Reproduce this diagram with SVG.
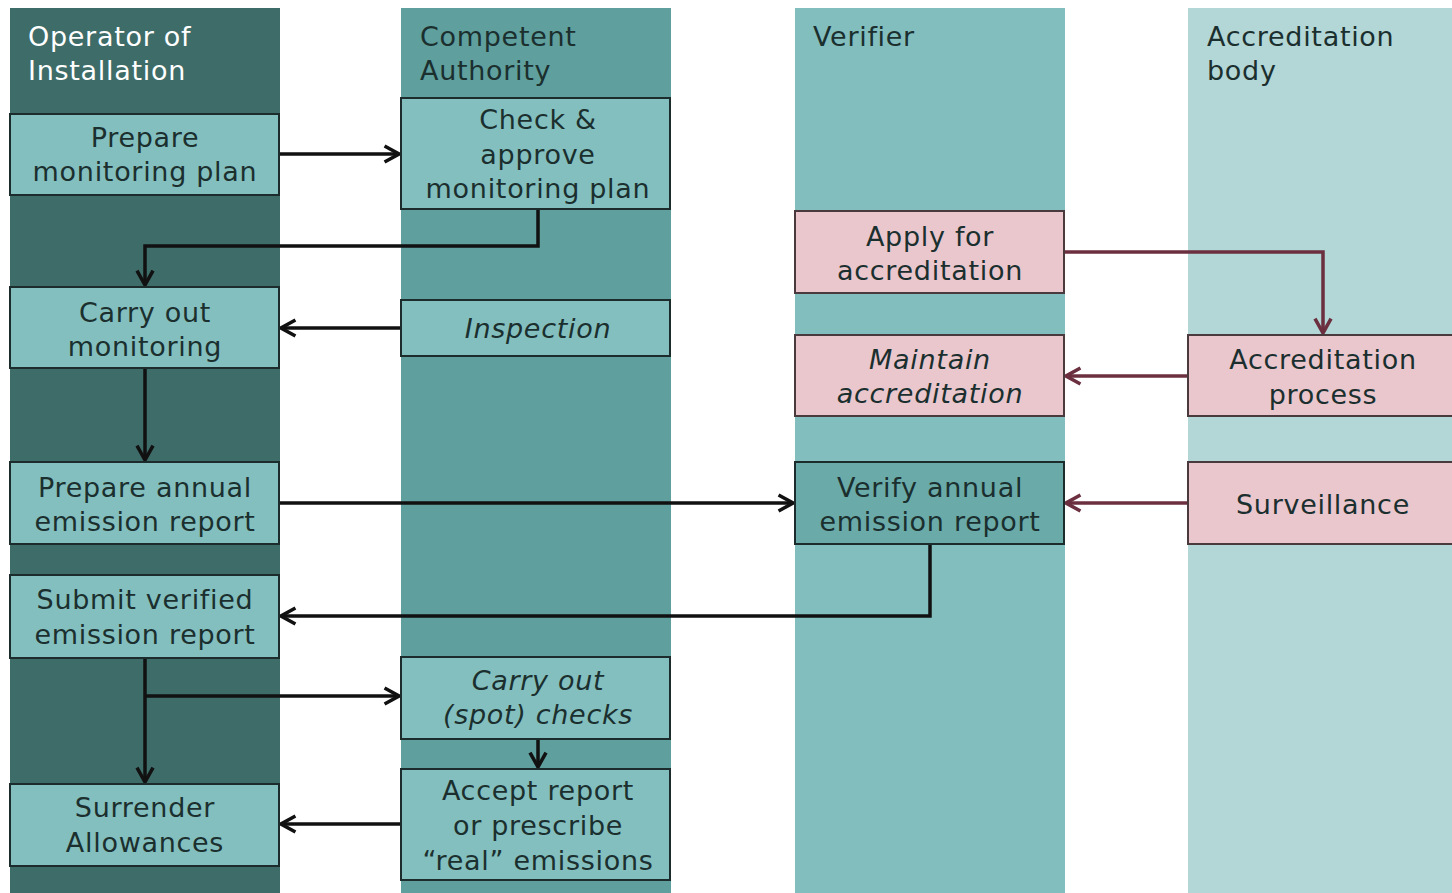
<svg xmlns="http://www.w3.org/2000/svg" width="1452" height="893" viewBox="0 0 1452 893">
<defs>
<style>
text{font-family:"DejaVu Sans","Liberation Sans",sans-serif;font-size:27px;letter-spacing:0.7px;fill:#1b2f2f;text-anchor:middle}
.hdr{text-anchor:start}
.w{fill:#ffffff}
.it{font-style:italic}
.box{fill:#83bfbe;stroke:#1c2b2b;stroke-width:2}
.vbox{fill:#6aaba9;stroke:#1c2b2b;stroke-width:2}
.pink{fill:#e9c7cd;stroke:#4a3a3e;stroke-width:2}
.c{fill:none;stroke:#111;stroke-width:3.5}
.m{fill:none;stroke:#6b2f3f;stroke-width:3.5}
</style>
<marker id="ak" viewBox="0 0 12 12" refX="11" refY="6" markerWidth="5.5" markerHeight="5.5" orient="auto" markerUnits="strokeWidth"><polyline points="2,1 11,6 2,11" fill="none" stroke="#111" stroke-width="2.2"/></marker>
<marker id="am" viewBox="0 0 12 12" refX="11" refY="6" markerWidth="5.5" markerHeight="5.5" orient="auto" markerUnits="strokeWidth"><polyline points="2,1 11,6 2,11" fill="none" stroke="#6b2f3f" stroke-width="2.2"/></marker>
</defs>
<rect width="1452" height="893" fill="#ffffff"/>
<g id="lanes">
<rect x="10" y="8" width="270" height="885" fill="#3e6c69"/>
<rect x="401" y="8" width="270" height="885" fill="#5f9f9d"/>
<rect x="795" y="8" width="270" height="885" fill="#82bebe"/>
<rect x="1188" y="8" width="264" height="885" fill="#b3d7d6"/>
<text class="hdr w" x="28" y="46">Operator of</text>
<text class="hdr w" x="28" y="80">Installation</text>
<text class="hdr" x="420" y="46">Competent</text>
<text class="hdr" x="420" y="80">Authority</text>
<text class="hdr" x="813" y="46">Verifier</text>
<text class="hdr" x="1207" y="46">Accreditation</text>
<text class="hdr" x="1207" y="80">body</text>
</g>
<g id="connectors">
<line class="c" x1="279" y1="154" x2="399" y2="154" marker-end="url(#ak)"/>
<polyline class="c" points="538,209 538,246 145,246 145,285" marker-end="url(#ak)"/>
<line class="c" x1="401" y1="328" x2="281" y2="328" marker-end="url(#ak)"/>
<line class="c" x1="145" y1="368" x2="145" y2="460" marker-end="url(#ak)"/>
<line class="c" x1="279" y1="503" x2="793" y2="503" marker-end="url(#ak)"/>
<polyline class="c" points="930,544 930,616 281,616" marker-end="url(#ak)"/>
<line class="c" x1="145" y1="658" x2="145" y2="782" marker-end="url(#ak)"/>
<line class="c" x1="145" y1="696" x2="399" y2="696" marker-end="url(#ak)"/>
<line class="c" x1="538" y1="739" x2="538" y2="767" marker-end="url(#ak)"/>
<line class="c" x1="401" y1="824" x2="281" y2="824" marker-end="url(#ak)"/>
<polyline class="m" points="1064,252 1323,252 1323,333" marker-end="url(#am)"/>
<line class="m" x1="1188" y1="376" x2="1066" y2="376" marker-end="url(#am)"/>
<line class="m" x1="1188" y1="503" x2="1066" y2="503" marker-end="url(#am)"/>
</g>
<g id="prepare-plan"><rect class="box" x="10" y="114" width="269" height="81"/><text x="145" y="147">Prepare</text><text x="145" y="181">monitoring plan</text></g>
<g id="check-approve"><rect class="box" x="401" y="98" width="269" height="111"/><text x="538" y="129">Check &amp;</text><text x="538" y="164">approve</text><text x="538" y="198">monitoring plan</text></g>
<g id="carry-out-monitoring"><rect class="box" x="10" y="287" width="269" height="81"/><text x="145" y="322">Carry out</text><text x="145" y="356">monitoring</text></g>
<g id="inspection"><rect class="box" x="401" y="300" width="269" height="56"/><text class="it" x="538" y="338">Inspection</text></g>
<g id="prepare-annual"><rect class="box" x="10" y="462" width="269" height="82"/><text x="145" y="497">Prepare annual</text><text x="145" y="531">emission report</text></g>
<g id="submit-verified"><rect class="box" x="10" y="575" width="269" height="83"/><text x="145" y="609">Submit verified</text><text x="145" y="644">emission report</text></g>
<g id="spot-checks"><rect class="box" x="401" y="657" width="269" height="82"/><text class="it" x="538" y="690">Carry out</text><text class="it" x="538" y="724">(spot) checks</text></g>
<g id="accept-report"><rect class="box" x="401" y="769" width="269" height="111"/><text x="538" y="800">Accept report</text><text x="538" y="835">or prescribe</text><text x="538" y="870">“real” emissions</text></g>
<g id="surrender"><rect class="box" x="10" y="784" width="269" height="82"/><text x="145" y="817">Surrender</text><text x="145" y="852">Allowances</text></g>
<g id="apply-accreditation"><rect class="pink" x="795" y="211" width="269" height="82"/><text x="930" y="246">Apply for</text><text x="930" y="280">accreditation</text></g>
<g id="maintain-accreditation"><rect class="pink" x="795" y="335" width="269" height="81"/><text class="it" x="930" y="369">Maintain</text><text class="it" x="930" y="403">accreditation</text></g>
<g id="verify-annual"><rect class="vbox" x="795" y="462" width="269" height="82"/><text x="930" y="497">Verify annual</text><text x="930" y="531">emission report</text></g>
<g id="accreditation-process"><rect class="pink" x="1188" y="335" width="266" height="81"/><text x="1323" y="369">Accreditation</text><text x="1323" y="404">process</text></g>
<g id="surveillance"><rect class="pink" x="1188" y="462" width="266" height="82"/><text x="1323" y="514">Surveillance</text></g>
</svg>
